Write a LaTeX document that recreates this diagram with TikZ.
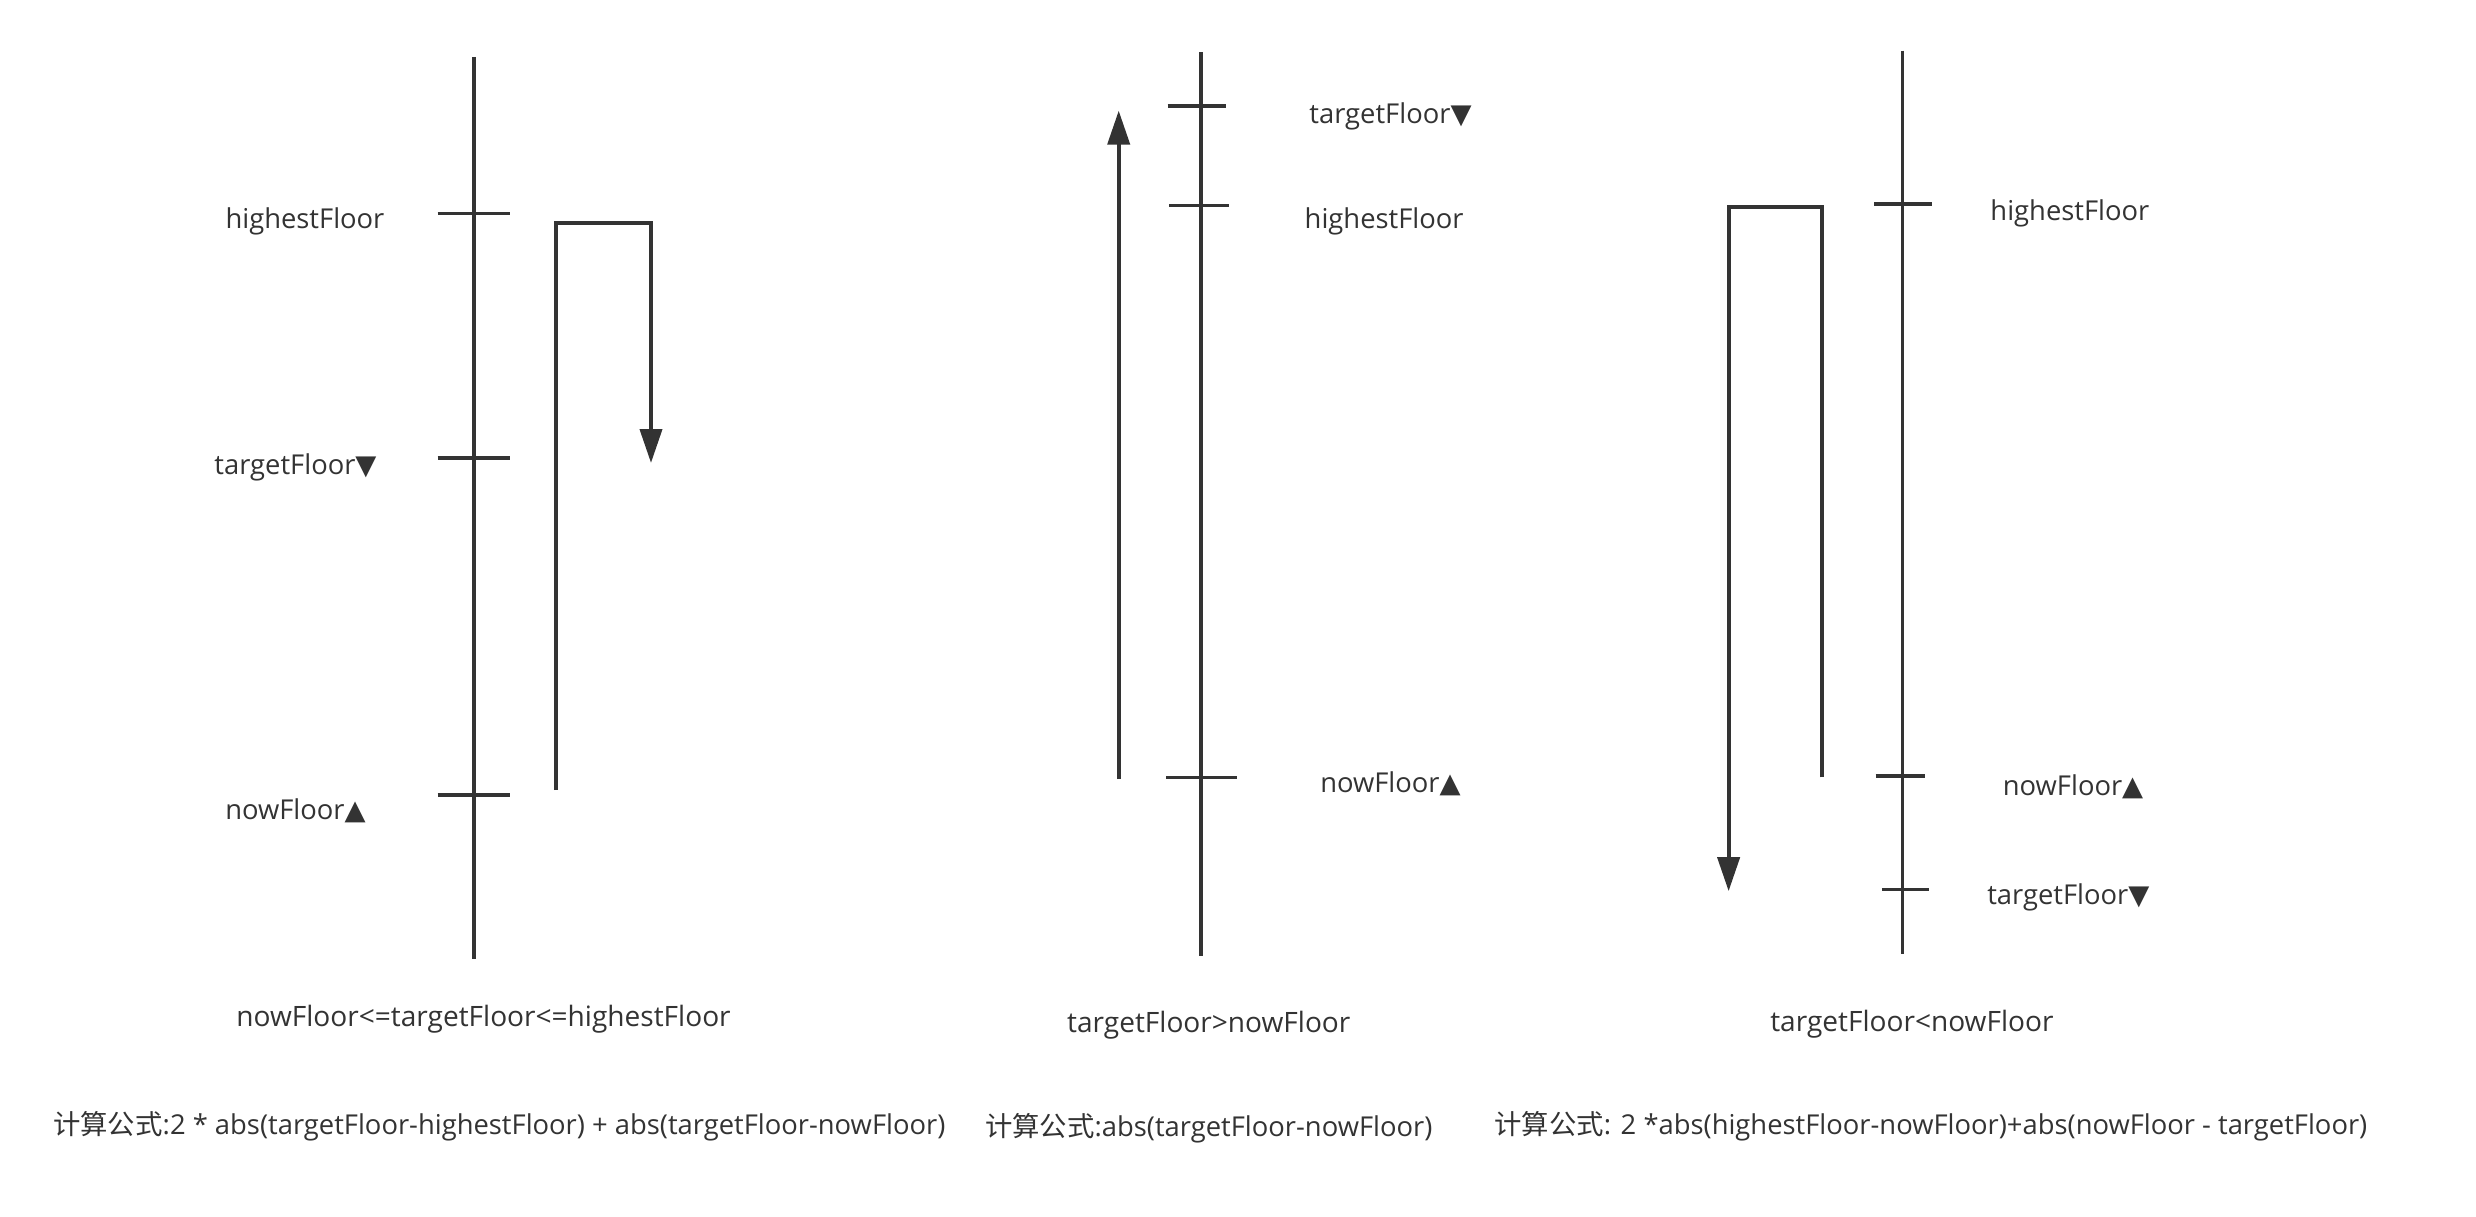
\documentclass[tikz,border=0pt]{standalone}
\usepackage{fontspec}
\setmainfont{Open Sans}
\newfontfamily\cjk{Noto Sans CJK SC}
\newfontfamily\sym{DejaVu Sans}
\usetikzlibrary{arrows.meta,positioning}
\definecolor{ink}{HTML}{333333}
\newcommand{\downmark}{{\sym ▼}}
\newcommand{\upmark}{{\sym ▲}}
\tikzset{
  shaft/.style={line width=1pt, draw=ink},
  tick/.style={line width=1pt, draw=ink},
  route/.style={line width=1.15pt, draw=ink, -{Triangle[length=3.4mm,width=2.2mm]}},
  floorlabel/.style={font=\fontsize{7.8}{10}\selectfont, text=ink, inner sep=0pt, yshift=-0.3mm},
  caption/.style={font=\fontsize{8}{10}\selectfont, text=ink, inner sep=0pt, yshift=-0.3mm},
  formula/.style={font=\fontsize{7.8}{10}\selectfont, text=ink, inner sep=0pt, yshift=-0.3mm},
}
\begin{document}
\begin{tikzpicture}[x=0.15826mm, y=-0.15826mm]
        \useasboundingbox (0,0) rectangle (1567,770);

        % Case 1: nowFloor <= targetFloor <= highestFloor
        \draw[shaft] (300,36) -- (300,607);
        \draw[tick] (277,135) -- (323,135);
        \draw[tick] (277,290) -- (323,290);
        \draw[tick] (277,503) -- (323,503);
        \node[floorlabel] (hf1) at (193,138) {highestFloor};
        \node[floorlabel] (tf1) at (187,294) {targetFloor\downmark};
        \node[floorlabel] (nf1) at (187,511) {nowFloor\upmark};
        \coordinate (s1) at (352,500);
        \coordinate (c1) at (412,141);
        \coordinate (e1) at (412,293);
        \draw[route] (s1) |- (c1) -- (e1); % up to the top, then down
        \node[caption] (cond1) at (306,643) {nowFloor<=targetFloor<=highestFloor};
        \node[formula] (calc1) at (316,711) {{\cjk 计算公式}:2 * abs(targetFloor-highestFloor) + abs(targetFloor-nowFloor)};

        % Case 2: targetFloor > nowFloor
        \draw[shaft] (760,33) -- (760,605);
        \draw[tick] (739,67) -- (776,67);
        \draw[tick] (740,130) -- (778,130);
        \draw[tick] (738,492) -- (783,492);
        \node[floorlabel] (tf2) at (880,72) {targetFloor\downmark};
        \node[floorlabel] (hf2) at (876,138) {highestFloor};
        \node[floorlabel] (nf2) at (880,494) {nowFloor\upmark};
        \coordinate (s2) at (708,493);
        \coordinate (e2) at (708,70);
        \draw[route] (s2) -- (e2); % straight up
        \node[caption] (cond2) at (765,647) {targetFloor>nowFloor};
        \node[formula] (calc2) at (765,712) {{\cjk 计算公式}:abs(targetFloor-nowFloor)};

        % Case 3: targetFloor < nowFloor
        \draw[shaft] (1204,32) -- (1204,604);
        \draw[tick] (1186,129) -- (1223,129);
        \draw[tick] (1187,491) -- (1218,491);
        \draw[tick] (1191,563) -- (1221,563);
        \node[floorlabel] (hf3) at (1310,133) {highestFloor};
        \node[floorlabel] (nf3) at (1312,496) {nowFloor\upmark};
        \node[floorlabel] (tf3) at (1309,566) {targetFloor\downmark};
        \coordinate (s3) at (1153,492);
        \coordinate (c3) at (1094,131);
        \coordinate (e3) at (1094,564);
        \draw[route] (s3) |- (c3) -- (e3); % up to the top, then all the way down
        \node[caption] (cond3) at (1210,646) {targetFloor<nowFloor};
        \node[formula] (calc3) at (1222,711) {{\cjk 计算公式}: 2 *abs(highestFloor-nowFloor)+abs(nowFloor - targetFloor)};
    \end{tikzpicture}
\end{document}
